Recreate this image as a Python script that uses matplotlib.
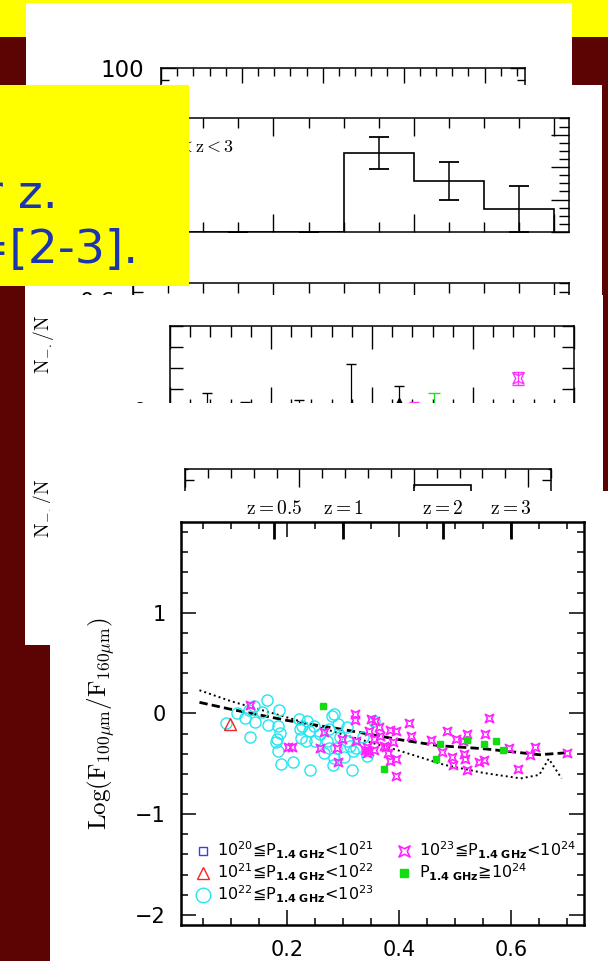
import matplotlib
matplotlib.use("Agg")
import numpy as np
import matplotlib.pyplot as plt
from matplotlib.patches import Rectangle
from matplotlib.path import Path
from matplotlib.ticker import MultipleLocator, FixedLocator, FixedFormatter

W, H = 608, 961
RED_BG = '#5c0303'
YELLOW = '#ffff00'
BLUE_TXT = '#1b34b0'

# ---- main panel: Log(F100/F160) vs abscissa, split by radio power ----
cyan_x = [0.090, 0.110, 0.125, 0.131, 0.140, 0.143, 0.133, 0.155, 0.163, 0.165,
          0.185, 0.183, 0.186, 0.182, 0.179, 0.183, 0.189, 0.210, 0.220, 0.222,
          0.224, 0.235, 0.234, 0.241, 0.247, 0.250, 0.259, 0.265, 0.271, 0.274,
          0.279, 0.284, 0.291, 0.287, 0.284, 0.282, 0.301, 0.307, 0.306, 0.315,
          0.318, 0.323, 0.335, 0.342, 0.354, 0.226, 0.238, 0.275, 0.294, 0.312]
cyan_y = [-0.096, 0.003, -0.046, 0.033, 0.069, -0.089, -0.238, 0.010, 0.136, -0.112,
          0.036, -0.129, -0.195, -0.255, -0.288, -0.377, -0.502, -0.486, -0.056, -0.155,
          -0.245, -0.073, -0.278, -0.562, -0.129, -0.271, -0.205, -0.393, -0.271, -0.155,
          -0.030, -0.007, -0.106, -0.344, -0.443, -0.512, -0.436, -0.139, -0.271, -0.559,
          -0.377, -0.344, -0.231, -0.420, -0.073, -0.122, -0.172, -0.344, -0.238, -0.327]
mag_x = [0.133, 0.202, 0.208, 0.259, 0.266, 0.288, 0.290, 0.298, 0.321, 0.321,
         0.322, 0.345, 0.349, 0.357, 0.364, 0.365, 0.354, 0.342, 0.339, 0.345,
         0.342, 0.355, 0.373, 0.377, 0.384, 0.394, 0.388, 0.380, 0.384, 0.395,
         0.394, 0.417, 0.421, 0.457, 0.476, 0.485, 0.494, 0.496, 0.502, 0.515,
         0.517, 0.521, 0.514, 0.521, 0.543, 0.552, 0.554, 0.561, 0.596, 0.612,
         0.634, 0.643, 0.699]
mag_y = [0.083, -0.337, -0.337, -0.347, -0.182, -0.347, -0.486, -0.255, -0.007, -0.066,
         -0.278, -0.172, -0.056, -0.073, -0.132, -0.228, -0.255, -0.337, -0.360, -0.377,
         -0.393, -0.364, -0.321, -0.337, -0.162, -0.179, -0.281, -0.393, -0.469, -0.453,
         -0.618, -0.096, -0.224, -0.261, -0.383, -0.178, -0.432, -0.508, -0.257, -0.399,
         -0.449, -0.208, -0.274, -0.558, -0.482, -0.465, -0.201, -0.046, -0.340, -0.554,
         -0.416, -0.333, -0.389]
green_x = [0.263, 0.373, 0.465, 0.472, 0.521, 0.551, 0.573, 0.585]
green_y = [0.076, -0.552, -0.449, -0.300, -0.267, -0.300, -0.274, -0.366]
red_x = [0.097]
red_y = [-0.106]
dash_x = [0.043, 0.10, 0.20, 0.30, 0.40, 0.47, 0.55, 0.60, 0.65, 0.70]
dash_y = [0.11, 0.04, -0.07, -0.16, -0.26, -0.32, -0.35, -0.38, -0.41, -0.39]
dot_x = [0.043, 0.10, 0.20, 0.30, 0.40, 0.48, 0.55, 0.617, 0.65, 0.667, 0.69]
dot_y = [0.23, 0.12, -0.04, -0.21, -0.37, -0.51, -0.59, -0.645, -0.61, -0.45, -0.645]
z_pos = [0.177, 0.300, 0.478, 0.600]
z_labels = [r'$\mathrm{z{=}0.5}$', r'$\mathrm{z{=}1}$', r'$\mathrm{z{=}2}$', r'$\mathrm{z{=}3}$']
legend_labels = ['10$^{20}$≦P$_{\mathbf{1.4\ GHz}}$<10$^{21}$',
                 '10$^{21}$≦P$_{\mathbf{1.4\ GHz}}$<10$^{22}$',
                 '10$^{22}$≦P$_{\mathbf{1.4\ GHz}}$<10$^{23}$',
                 '10$^{23}$≦P$_{\mathbf{1.4\ GHz}}$<10$^{24}$',
                 'P$_{\mathbf{1.4\ GHz}}$≧10$^{24}$']

# ---- histogram panel (2<z<3) ----
hist_edges = [0, 2, 4, 6, 8, 10, 12]
hist_frac = [0.0, 0.0, 0.0, 0.488, 0.315, 0.142]
hist_err = [0.0, 0.0, 0.0, 0.099, 0.117, 0.142]

# ---- strip with limits ----
lim_x = [0.37, 0.74, 1.28, 1.79]
lim_y = [0.0, 0.0, 0.0, 0.0]
lim_hi = [0.081, 0.038, 0.048, 0.219]
tri_x, tri_y, tri_lo, tri_hi = [2.27], [0.043], [0.043], [0.071]
mlim_x, mlim_y, mlim_hi = [2.42], [0.0], [0.038]
glim_x, glim_y, glim_hi = [2.61], [0.0], [0.081]
star_x, star_y, star_err = [3.45], [0.152], [0.031]

# ---- lower strip step ----
step_edges = [2.0, 2.5]
step_frac = [0.555]

star_marker = Path([(1, 1), (0, 0.5), (-1, 1), (-0.5, 0), (-1, -1),
                    (0, -0.5), (1, -1), (0.5, 0), (1, 1)], closed=True)

fig = plt.figure(figsize=(W / 100, H / 100), dpi=100)
fig.patch.set_facecolor(RED_BG)


def box(x0, y0, x1, y1):
    return [x0 / W, 1 - y1 / H, (x1 - x0) / W, (y1 - y0) / H]


def rect(x0, y0, x1, y1, color, z):
    fig.add_artist(Rectangle((x0 / W, 1 - y1 / H), (x1 - x0) / W, (y1 - y0) / H,
                             transform=fig.transFigure, facecolor=color,
                             edgecolor='none', zorder=z))


def inner(x0, y0, x1, y1, z, lw=1.1):
    a = fig.add_axes(box(x0, y0, x1, y1), zorder=z)
    a.set_facecolor('none')
    for s in a.spines.values():
        s.set_linewidth(lw)
    a.tick_params(which='both', direction='in', top=True, right=True,
                  labelbottom=False, labelleft=False, width=1.0)
    return a


# background pieces
rect(0, 0, W, 37, YELLOW, 1)
rect(26, 3, 572, 95, 'white', 2)

# panel A (only its top edge shows)
ax_a = inner(161, 68, 525, 188, 3)
ax_a.set_xlim(0, 4.5)
ax_a.set_ylim(0, 100)
ax_a.xaxis.set_major_locator(MultipleLocator(1))
ax_a.xaxis.set_minor_locator(MultipleLocator(0.2))
ax_a.yaxis.set_major_locator(FixedLocator([100]))
ax_a.yaxis.set_minor_locator(MultipleLocator(10))
ax_a.tick_params(which='major', length=11)
ax_a.tick_params(which='minor', length=6)
ax_a.tick_params(axis='y', labelleft=True, labelsize=16.5, pad=12)

# panel B: histogram
rect(25, 85, 602, 295, 'white', 4)
ax_b = inner(133, 118, 569, 232, 5)
ax_b.set_xlim(0, 12.42)
ax_b.set_ylim(0, 0.703)
ax_b.stairs(hist_frac, hist_edges, color='k', lw=1.2)
mids = (np.array(hist_edges[:-1]) + np.array(hist_edges[1:])) / 2
ax_b.errorbar(mids, hist_frac, yerr=hist_err, fmt='none', ecolor='k',
              elinewidth=1.1, capsize=7, capthick=1.3)
ax_b.xaxis.set_major_locator(MultipleLocator(4))
ax_b.xaxis.set_minor_locator(MultipleLocator(1))
ax_b.yaxis.set_major_locator(MultipleLocator(0.2))
ax_b.yaxis.set_minor_locator(MultipleLocator(0.05))
ax_b.tick_params(which='major', length=13)
ax_b.tick_params(which='minor', length=7)
fig.text(234 / W, 1 - 152 / H, r'$\mathrm{2{<}z{<}3}$', ha='right', va='baseline',
         fontsize=13, math_fontfamily='cm', zorder=5)

ax_b2 = inner(133, 283, 569, 397, 5)
ax_b2.set_xlim(0, 12.42)
ax_b2.set_ylim(0, 0.703)
ax_b2.xaxis.set_major_locator(MultipleLocator(4))
ax_b2.xaxis.set_minor_locator(MultipleLocator(1))
ax_b2.yaxis.set_major_locator(FixedLocator([0.2, 0.4, 0.6]))
ax_b2.yaxis.set_minor_locator(MultipleLocator(0.05))
ax_b2.tick_params(which='major', length=13)
ax_b2.tick_params(which='minor', length=7)
ax_b2.tick_params(axis='y', labelleft=True, labelsize=16, pad=13)

# yellow slide box (its text runs off the left edge, as on the slide)
rect(0, 85, 189, 286, YELLOW, 6)
fig.text(58 / W, 1 - 207 / H, 'for z.', ha='right', va='baseline', fontsize=34,
         color=BLUE_TXT, zorder=7)
fig.text(138 / W, 1 - 263 / H, 'z=[2-3].', ha='right', va='baseline', fontsize=34,
         color=BLUE_TXT, zorder=7)

# panel C top: limits strip
rect(25, 295, 603, 403, 'white', 8)
ax_c = inner(170, 326, 574, 410, 9)
ax_c.set_xlim(0, 4)
ax_c.set_ylim(0, 0.4)
ax_c.xaxis.set_major_locator(MultipleLocator(1))
ax_c.xaxis.set_minor_locator(MultipleLocator(0.2))
ax_c.yaxis.set_major_locator(FixedLocator([0, 0.1, 0.2, 0.3, 0.4]))
ax_c.yaxis.set_major_formatter(FixedFormatter(['0', '', '', '', '']))
ax_c.tick_params(axis='x', which='major', length=16.5)
ax_c.tick_params(axis='x', which='minor', length=8)
ax_c.tick_params(axis='y', which='major', length=9, labelleft=True, labelsize=16, pad=17)
ax_c.errorbar(lim_x, lim_y, yerr=[lim_y, lim_hi], fmt='none', ecolor='k',
              elinewidth=0.9, capsize=3.5)
ax_c.errorbar(tri_x, tri_y, yerr=[tri_lo, tri_hi], fmt='^', color='k', ms=5,
              elinewidth=0.9, capsize=3.5)
ax_c.errorbar(mlim_x, mlim_y, yerr=[mlim_y, mlim_hi], fmt='none', ecolor='#ff33ff',
              elinewidth=0.9, capsize=3.5)
ax_c.errorbar(glim_x, glim_y, yerr=[glim_y, glim_hi], fmt='none', ecolor='#22dd22',
              elinewidth=0.9, capsize=4.5)
ax_c.errorbar(star_x, star_y, yerr=star_err, marker=star_marker, ls='none',
              color='#ff33ff', mfc='none', ms=8, elinewidth=0.9, capsize=4.5)
fig.text(43 / W, 1 - 344 / H, r'$\mathrm{N_{-.}/N}$', rotation=90, ha='center',
         va='center', fontsize=14, math_fontfamily='cm', zorder=9)

# panel C bottom
rect(25, 403, 603, 645, 'white', 10)
ax_c2 = inner(185, 469, 551, 546, 11)
ax_c2.set_xlim(0, 3.2)
ax_c2.set_ylim(0, 0.7)
ax_c2.stairs(step_frac, step_edges, color='k', lw=1.2)
ax_c2.xaxis.set_major_locator(MultipleLocator(1))
ax_c2.xaxis.set_minor_locator(MultipleLocator(0.2))
ax_c2.yaxis.set_major_locator(MultipleLocator(0.2))
ax_c2.yaxis.set_minor_locator(MultipleLocator(0.7))
ax_c2.tick_params(axis='x', which='major', length=13)
ax_c2.tick_params(axis='x', which='minor', length=6.5)
ax_c2.tick_params(axis='y', which='major', length=6.5)
fig.text(43 / W, 1 - 508 / H, r'$\mathrm{N_{-.}/N}$', rotation=90, ha='center',
         va='center', fontsize=14, math_fontfamily='cm', zorder=11)

# panel D: main scatter
rect(50, 491, 608, 961, 'white', 12)
ax = fig.add_axes(box(181, 522, 584, 925), zorder=13)
ax.set_facecolor('none')
for s in ax.spines.values():
    s.set_linewidth(1.8)
ax.set_xlim(0.01, 0.73)
ax.set_ylim(-2.1, 1.9)

ax.plot(dot_x, dot_y, color='k', lw=1.4, ls=(0, (1, 1.6)))
ax.plot(dash_x, dash_y, color='k', lw=2.0, dashes=(3, 1.5))
h_blue, = ax.plot([], [], 's', mfc='none', mec='#3a3aff', ms=6, mew=1)
h_cyan, = ax.plot(cyan_x, cyan_y, 'o', mfc='none', mec='#22e6f0', ms=8, mew=1)
h_mag, = ax.plot(mag_x, mag_y, marker=star_marker, ls='none', mfc='none',
                 mec='#ff22ff', ms=6, mew=1.2)
h_green, = ax.plot(green_x, green_y, 's', color='#11dd11', ms=5)
h_red, = ax.plot(red_x, red_y, '^', mfc='none', mec='#ff2020', ms=9, mew=1)

ax.xaxis.set_major_locator(FixedLocator([0.2, 0.4, 0.6]))
ax.xaxis.set_minor_locator(MultipleLocator(0.05))
ax.yaxis.set_major_locator(MultipleLocator(1))
ax.yaxis.set_minor_locator(MultipleLocator(0.2))
ax.tick_params(which='both', direction='in', top=True, right=True, width=1.1,
               labelsize=15, pad=11)
ax.tick_params(which='major', length=10.5)
ax.tick_params(which='minor', length=5)

zax = ax.secondary_xaxis('top')
zax.set_xticks(z_pos, z_labels)
zax.tick_params(direction='in', length=12.5, width=2.0, pad=3, labelsize=14)
for lbl in zax.get_xticklabels():
    lbl.set_math_fontfamily('cm')

ax.set_ylabel(r'$\mathrm{Log(F_{100\mu m}/F_{160\mu m})}$', fontsize=18,
              math_fontfamily='cm')
ax.yaxis.set_label_coords(-0.159, 0.499)

leg = ax.legend([h_blue, h_red, h_cyan, h_mag, h_green], legend_labels, ncol=2,
                loc='lower left', bbox_to_anchor=(0.035, 0.05), frameon=False,
                fontsize=11.5, handlelength=1.0, handletextpad=0.4,
                columnspacing=1.4, labelspacing=0.02, borderaxespad=0, borderpad=0)
for hnd, ms in zip(leg.legend_handles, [6, 8, 10.5, 8, 6]):
    hnd.set_markersize(ms)

fig.savefig('out.png', dpi=100, facecolor=fig.get_facecolor())
